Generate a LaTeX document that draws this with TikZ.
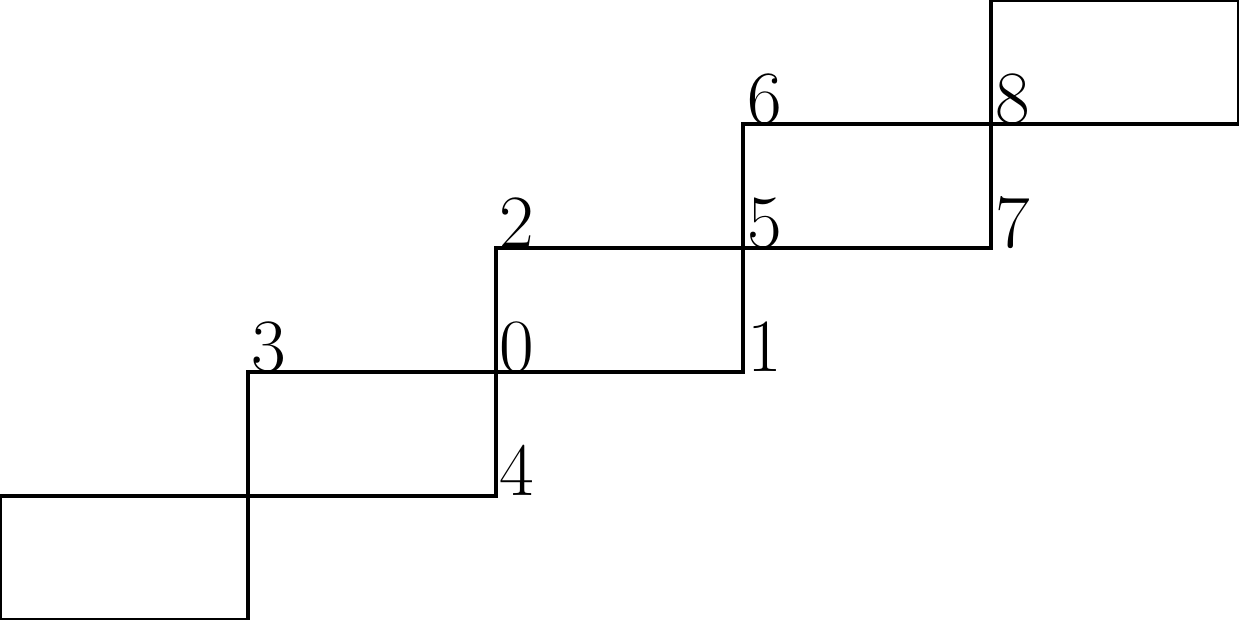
\documentclass[tikz,border=0pt]{standalone}
\begin{document}
\begin{tikzpicture}[x=2cm,y=1cm,line width=0.9pt,
  lbl/.style={anchor=base west,inner sep=0.5pt,font=\LARGE}]
\useasboundingbox (0,0) rectangle (5,5);
\foreach \n/\x/\y in {a/0/0,b/1/0,c/0/1,d/1/1,e/2/1,f/1/2,g/2/2,h/3/2,i/2/3,j/3/3,k/4/3,l/3/4,m/4/4,n/5/4,o/4/5,p/5/5}
  \coordinate (\n) at (\x,\y);
\draw (a) -- (b) -- (f) -- (h) -- (l) -- (n) -- (p) -- (o) -- (k) -- (i) -- (e) -- (c) -- cycle;
\node[lbl] (l3) at (f) {3};
\node[lbl] (l0) at (g) {0};
\node[lbl] (l1) at (h) {1};
\node[lbl] (l2) at (i) {2};
\node[lbl] (l5) at (j) {5};
\node[lbl] (l7) at (k) {7};
\node[lbl] (l4) at (e) {4};
\node[lbl] (l6) at (l) {6};
\node[lbl] (l8) at (m) {8};
\end{tikzpicture}
\end{document}
